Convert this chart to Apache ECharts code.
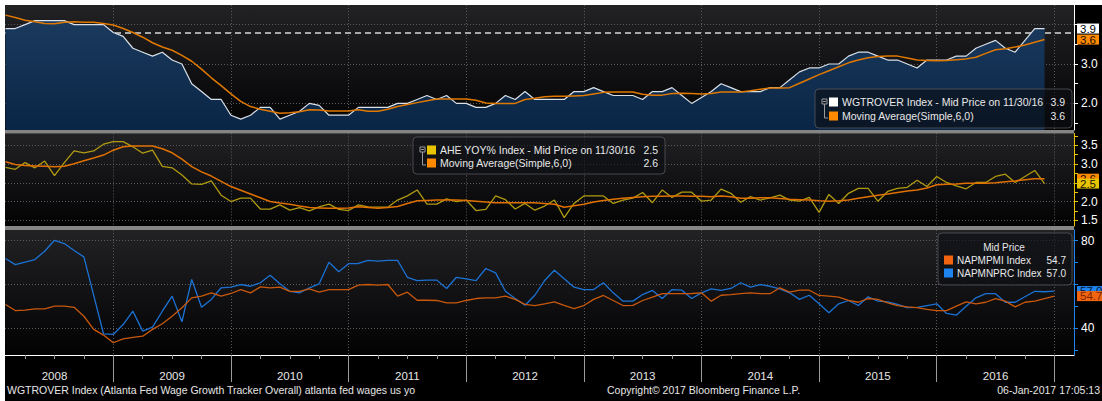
<!DOCTYPE html>
<html><head><meta charset="utf-8">
<script src="https://cdn.jsdelivr.net/npm/echarts@6/dist/echarts.min.js"></script>
<style>html,body{margin:0;padding:0;background:#000;}#c{width:1102px;height:401px;}</style>
</head><body><div id="c"></div>
<script>
// ---------- data (monthly, month-end, starting Jan 2008) ----------
const startYear = 2008;
const yearLabels = ['2008','2009','2010','2011','2012','2013','2014','2015','2016'];
const refLevel = 3.8;

const wgtrover = [3.9,3.9,4.0,4.1,4.1,4.1,4.1,4.0,4.0,4.0,4.0,3.8,
  3.7,3.4,3.3,3.2,3.3,3.1,3.0,2.5,2.3,2.1,2.1,1.7,
  1.6,1.7,1.9,1.9,1.6,1.7,1.8,2.0,1.95,1.7,1.7,1.7,
  1.9,1.9,1.9,1.9,2.0,2.0,2.1,2.2,2.1,2.2,2.0,2.0,
  1.9,1.9,2.0,2.2,2.1,2.3,2.1,2.1,2.1,2.1,2.3,2.3,
  2.4,2.3,2.2,2.2,2.2,2.1,2.3,2.3,2.4,2.2,2.0,2.15,
  2.3,2.5,2.4,2.3,2.3,2.3,2.4,2.4,2.6,2.8,2.9,2.9,
  3.0,3.0,3.2,3.3,3.3,3.2,3.1,3.1,3.0,2.9,3.1,3.1,
  3.1,3.2,3.2,3.4,3.5,3.6,3.4,3.3,3.6,3.9,3.9];
const wgMA = [4.24,4.18,4.11,4.07,4.03,4.02,4.06,4.07,4.06,4.06,4.03,3.99,
  3.90,3.80,3.68,3.54,3.43,3.35,3.22,3.07,2.87,2.65,2.45,2.24,
  2.05,1.92,1.85,1.80,1.75,1.76,1.79,1.84,1.83,1.81,1.81,1.81,
  1.84,1.80,1.80,1.85,1.92,1.97,2.02,2.07,2.11,2.11,2.11,2.11,
  2.08,2.01,2.00,2.00,2.00,2.10,2.13,2.17,2.18,2.18,2.19,2.20,
  2.24,2.28,2.29,2.29,2.29,2.23,2.21,2.21,2.25,2.26,2.25,2.24,
  2.25,2.29,2.29,2.29,2.32,2.36,2.39,2.39,2.40,2.51,2.62,2.73,
  2.83,2.93,3.03,3.10,3.16,3.19,3.20,3.20,3.15,3.10,3.09,3.08,
  3.09,3.11,3.13,3.17,3.27,3.36,3.39,3.43,3.48,3.55,3.62];
const ahe = [2.91,2.86,3.04,2.90,3.08,2.69,3.04,3.35,3.30,3.35,3.53,3.60,
  3.60,3.46,3.29,3.37,2.94,2.90,2.71,2.47,2.46,2.55,2.17,2.00,
  2.09,2.09,1.80,1.80,1.91,1.77,1.84,1.75,1.86,1.93,1.79,1.76,
  1.91,1.86,1.85,1.85,2.04,2.15,2.31,1.93,1.93,2.07,2.00,2.04,
  1.76,1.79,2.15,2.05,1.80,1.95,1.77,1.88,2.04,1.57,1.95,2.15,
  2.15,2.15,1.95,2.04,2.09,2.24,1.97,2.31,2.11,2.25,2.25,2.01,
  2.04,2.33,2.22,1.98,2.13,2.04,2.10,2.17,2.04,2.01,2.11,1.71,
  2.19,1.95,2.22,2.35,2.35,2.01,2.27,2.35,2.38,2.57,2.40,2.67,
  2.51,2.42,2.34,2.51,2.51,2.67,2.73,2.51,2.67,2.83,2.48];
const aheMA = [3.06,2.99,2.96,2.95,2.94,2.93,2.94,3.01,3.09,3.16,3.24,3.37,
  3.46,3.48,3.48,3.48,3.41,3.30,3.13,2.93,2.79,2.68,2.54,2.40,
  2.30,2.20,2.10,2.00,1.96,1.93,1.88,1.84,1.83,1.82,1.82,1.83,
  1.86,1.84,1.82,1.84,1.87,1.95,2.02,2.03,2.04,2.04,2.04,2.03,
  2.01,1.99,1.97,1.97,1.97,1.97,1.97,1.95,1.93,1.85,1.89,1.93,
  1.99,2.03,2.06,2.09,2.11,2.13,2.14,2.14,2.15,2.15,2.14,2.14,
  2.13,2.15,2.13,2.09,2.09,2.10,2.10,2.08,2.06,2.05,2.04,2.02,
  2.01,2.02,2.04,2.09,2.13,2.17,2.20,2.24,2.28,2.31,2.36,2.45,
  2.46,2.47,2.49,2.49,2.49,2.50,2.53,2.55,2.58,2.61,2.61];
const napmpmi = [50.9,48.1,48.3,48.9,48.9,50.1,50.1,49.6,45.5,39.5,36.9,33.4,
  35.2,35.9,36.4,39.5,42.1,45.5,49.4,53.9,54.7,56.2,54.7,55.9,
  57.7,56.2,58.9,58.5,58.8,56.9,56.9,58.0,56.5,57.7,57.7,57.7,
  59.7,60.0,59.7,60.0,54.7,56.5,52.8,52.8,52.7,51.6,51.6,52.7,
  53.6,53.9,53.9,54.7,53.2,50.9,50.4,51.2,52.1,50.5,49.0,50.4,
  53.2,55.0,52.7,50.4,50.5,52.7,54.2,55.8,55.8,55.8,55.9,56.2,
  52.4,55.1,55.4,55.8,56.2,55.8,55.8,58.5,56.5,57.4,57.4,55.0,
  54.7,54.2,52.8,51.9,53.6,53.2,51.6,50.4,49.8,49.4,48.6,48.1,
  48.1,50.1,52.1,51.2,51.9,53.6,52.4,49.8,51.9,52.4,53.6,54.7];
const napmnprc = [71.9,69.1,70.2,71.4,75.2,80.2,78.7,75.5,72.6,55.0,37.5,37.2,
  41.7,47.8,38.7,40.5,47.8,54.7,43.0,62.3,49.6,53.2,58.5,58.8,
  60.0,59.2,60.8,64.2,60.3,56.9,56.2,58.5,60.3,70.2,65.8,69.5,
  69.6,71.0,70.7,71.0,71.0,63.3,61.8,62.0,62.0,58.2,63.3,62.6,
  61.8,67.3,65.3,56.9,53.6,50.5,55.1,61.8,66.5,62.6,58.8,57.7,
  57.7,60.8,56.2,52.4,52.4,55.4,57.3,53.6,57.7,57.4,53.6,56.2,
  58.0,57.3,58.2,60.8,58.8,60.0,59.2,58.0,56.2,53.2,55.1,51.2,
  47.1,51.2,52.7,50.4,54.4,52.4,52.1,50.9,49.4,49.6,50.4,51.2,
  46.8,46.0,50.1,53.9,55.8,55.8,51.9,51.9,54.4,56.9,56.7,57.0];

// tick values
const yearBounds = [2009,2010,2011,2012,2013,2014,2015,2016,2017];
const yearMids = yearLabels.map(y => +y + 0.5);
const quarterTicks = [];
yearLabels.forEach(y => { [0.25,0.5,0.75].forEach(q => quarterTicks.push(+y + q)); });
const topGrid = [2,3,4], topLabels = [2,3], topTicks = [1.5,2,2.5,3,3.5,4];
const midGrid = [1.5,2,2.5,3,3.5], midLabels = [1.5,2,3,3.5];
const midTicks = [1.5,1.75,2,2.25,2.5,2.75,3,3.25,3.5,3.75];
const botGrid = [40,60,80], botLabels = [40,80], botTicks = [30,40,50,60,70,80];

// ---------- helpers ----------
const FONT = '"Liberation Sans", Arial, sans-serif';
function monthEnd(i){ return startYear + (i + 1) / 12; }
const pts = arr => arr.map((v, i) => [monthEnd(i), v]);
const last = arr => arr[arr.length - 1];
const X_MIN = 2008.0793, X_MAX = 2017.167;
const dotted = {color:'#5a5a5a', width:1, type:[1,2]};

function panelBg(){
  return new echarts.graphic.LinearGradient(0,0,0,1,[{offset:0,color:'#222225'},{offset:1,color:'#020203'}]);
}
function xAxisPlain(g){
  return {type:'value', gridIndex:g, min:X_MIN, max:X_MAX, position:'bottom',
    axisLine:{show:false}, axisTick:{show:false, customValues:yearBounds},
    axisLabel:{show:false}, splitLine:{show:true, lineStyle:dotted}};
}
function yMain(g, min, max, gridVals, labelVals, color, fmt){
  return {type:'value', gridIndex:g, position:'right', min:min, max:max,
    axisLine:{show:true, lineStyle:{color:color, width:1}},
    axisTick:{show:false, customValues:gridVals},
    splitLine:{show:true, lineStyle:dotted},
    axisLabel:{show:true, customValues:labelVals, formatter:fmt, color:'#ffffff', fontSize:12, fontFamily:FONT, margin:7}};
}
function yTicks(g, min, max, vals, color){
  return {type:'value', gridIndex:g, position:'right', min:min, max:max,
    axisLine:{show:false}, axisTick:{show:true, customValues:vals, length:4, lineStyle:{color:color}},
    axisLabel:{show:false}, splitLine:{show:false}};
}
function lastLabel(value, bg, fg, z, dec){
  return {silent:true, symbol:'none', animation:false, z:z,
    lineStyle:{color:'transparent', width:0},
    label:{show:true, position:'end', distance:3, formatter:() => value.toFixed(dec),
      backgroundColor:bg, color:fg, fontSize:11.5, fontFamily:FONT, padding:[0,3,0,3], lineHeight:10,
      borderColor: bg === '#ffffff' ? '#555' : bg, borderWidth: 0},
    data:[{yAxis:value}]};
}

// ---------- legends (graphic) ----------
function legendBox(x, y, w, h, rows, rowY, textX, valX, title, fontPx){
  const LFONT = fontPx + 'px ' + FONT;
  const els = [{type:'rect', shape:{x:x, y:y, width:w, height:h, r:4},
    style:{fill:'rgba(12,14,20,0.62)', stroke:'rgba(95,95,100,0.7)', lineWidth:1}}];
  if (title) {
    els.push({type:'text', style:{text:title.text, x:title.x, y:title.y, fill:'#e6e6e6',
      font:LFONT, align:'center', verticalAlign:'middle'}});
  } else {
    els.push({type:'rect', shape:{x:textX-20, y:rowY[0]-3, width:5, height:5},
      style:{fill:'none', stroke:'#9a9a9a', lineWidth:1}});
    els.push({type:'line', shape:{x1:textX-19, y1:rowY[0]-0.5, x2:textX-16, y2:rowY[0]-0.5},
      style:{stroke:'#9a9a9a', lineWidth:1}});
    els.push({type:'polyline', shape:{points:[[textX-17.5, rowY[0]+2],[textX-17.5, rowY[1]+2],[textX-14, rowY[1]+2]]},
      style:{stroke:'#9a9a9a', lineWidth:1, fill:'none'}});
  }
  rows.forEach((r, k) => {
    els.push({type:'rect', shape:{x:textX-13, y:rowY[k]-4.5, width:9, height:9}, style:{fill:r.color}});
    els.push({type:'text', style:{text:r.text, x:textX, y:rowY[k], fill:'#e8e8e8',
      font:LFONT, verticalAlign:'middle'}});
    els.push({type:'text', style:{text:r.value, x:valX, y:rowY[k], fill:'#e8e8e8',
      font:LFONT, align:'right', verticalAlign:'middle'}});
  });
  els.forEach((e, k) => { e.z = 100 + k; e.zlevel = 0; });
  return els;
}

const graphics = [
  {type:'rect', shape:{x:0, y:0, width:1102, height:5}, style:{fill:'#ffffff'}, z:100},
  {type:'rect', shape:{x:0, y:0, width:5, height:401}, style:{fill:'#ffffff'}, z:100},
  {type:'rect', shape:{x:5, y:130, width:1069, height:3.5}, style:{fill:'#858585'}, z:90},
  {type:'rect', shape:{x:5, y:226, width:1069, height:4}, style:{fill:'#858585'}, z:90},
  ...legendBox(815, 89, 257, 39, [
      {color:'#ffffff', text:'WGTROVER Index - Mid Price on 11/30/16', value:last(wgtrover).toFixed(1)},
      {color:'#ff8a00', text:'Moving Average(Simple,6,0)', value:last(wgMA).toFixed(1)}],
    [102, 116], 842, 1065, null, 10.5),
  ...legendBox(413, 137, 252, 37, [
      {color:'#e8c400', text:'AHE YOY% Index - Mid Price on 11/30/16', value:last(ahe).toFixed(1)},
      {color:'#ff8a00', text:'Moving Average(Simple,6,0)', value:last(aheMA).toFixed(1)}],
    [150, 163], 440, 658, null, 10.5),
  ...legendBox(938, 233, 134, 52, [
      {color:'#f2640f', text:'NAPMPMI Index', value:last(napmpmi).toFixed(1)},
      {color:'#1e84f0', text:'NAPMNPRC Index', value:last(napmnprc).toFixed(1)}],
    [260, 273], 957, 1066, {text:'Mid Price', x:1004, y:247}, 10),
  {type:'text', style:{text:'WGTROVER Index (Atlanta Fed Wage Growth Tracker Overall) atlanta fed wages us yo',
    x:7, y:390, fill:'#e6e6e6', font:'10.5px ' + FONT, verticalAlign:'middle'}, z:100},
  {type:'text', style:{text:'Copyright\u00a9 2017 Bloomberg Finance L.P.',
    x:607, y:390, fill:'#e6e6e6', font:'10.5px ' + FONT, verticalAlign:'middle'}, z:100},
  {type:'text', style:{text:'06-Jan-2017 17:05:13',
    x:1100, y:390, fill:'#e6e6e6', font:'10.5px ' + FONT, align:'right', verticalAlign:'middle'}, z:100}
];

// ---------- option ----------
const option = {
  animation:false,
  backgroundColor:'#000000',
  textStyle:{fontFamily:FONT},
  grid:[
    {left:5, right:28, top:5, height:125, show:true, backgroundColor:panelBg(), borderWidth:0},
    {left:5, right:28, top:133.5, height:92.5, show:true, backgroundColor:panelBg(), borderWidth:0},
    {left:5, right:28, top:230, height:125, show:true, backgroundColor:panelBg(), borderWidth:0}
  ],
  xAxis:[
    xAxisPlain(0),
    xAxisPlain(1),
    {type:'value', gridIndex:2, min:X_MIN, max:X_MAX, position:'bottom',
      axisLine:{show:true, lineStyle:{color:'#ffffff', width:1}},
      axisTick:{show:true, customValues:yearBounds, length:27, lineStyle:{color:'#9a9a9a'}},
      axisLabel:{show:true, customValues:yearMids, formatter:v => yearLabels[Math.floor(v) - startYear],
        color:'#e6e6e6', fontSize:11.5, fontFamily:FONT, margin:15},
      splitLine:{show:true, lineStyle:dotted}},
    {type:'value', gridIndex:2, min:X_MIN, max:X_MAX, position:'bottom',
      axisLine:{show:false},
      axisTick:{show:true, customValues:quarterTicks, length:4, lineStyle:{color:'#9a9a9a'}},
      axisLabel:{show:false}, splitLine:{show:false}}
  ],
  yAxis:[
    yMain(0, 1.325, 4.4975, topGrid, topLabels, '#ffffff', v => v.toFixed(1)),
    yTicks(0, 1.325, 4.4975, topTicks, '#ffffff'),
    yMain(1, 1.348, 3.815, midGrid, midLabels, '#e8c400', v => v.toFixed(1)),
    yTicks(1, 1.348, 3.815, midTicks, '#e8c400'),
    yMain(2, 27.81, 84.89, botGrid, botLabels, '#1e84f0', v => String(v)),
    yTicks(2, 27.81, 84.89, botTicks, '#1e84f0')
  ],
  series:[
    {name:'WGTROVER Index', type:'line', xAxisIndex:0, yAxisIndex:0, data:pts(wgtrover),
      showSymbol:false, symbol:'none', z:3,
      lineStyle:{color:'#d9e0e8', width:1.2},
      areaStyle:{origin:'start', opacity:1,
        color:new echarts.graphic.LinearGradient(0,0,0,1,[{offset:0,color:'#1a3a5e'},{offset:1,color:'#0a2545'}])},
      markLine:{silent:true, symbol:'none', animation:false, z:1,
        label:{show:false}, lineStyle:{color:'#a8a8a8', width:2, type:[6,4]},
        data:[{yAxis:refLevel}]}},
    {name:'WGTROVER Last', type:'line', xAxisIndex:0, yAxisIndex:0, data:[], markLine:lastLabel(last(wgtrover), '#ffffff', '#000000', 20, 1)},
    {name:'Moving Average', type:'line', xAxisIndex:0, yAxisIndex:0, data:pts(wgMA),
      showSymbol:false, symbol:'none', z:4, lineStyle:{color:'#e07800', width:1.5},
      markLine:lastLabel(last(wgMA), '#ff8a00', '#1a0a00', 21, 1)},
    {name:'Moving Average (AHE)', type:'line', xAxisIndex:1, yAxisIndex:2, data:pts(aheMA),
      showSymbol:false, symbol:'none', z:4, lineStyle:{color:'#e07000', width:1.5},
      markLine:lastLabel(last(aheMA), '#ff8a00', '#1a0a00', 20, 1)},
    {name:'AHE YOY% Index', type:'line', xAxisIndex:1, yAxisIndex:2, data:pts(ahe),
      showSymbol:false, symbol:'none', z:3, lineStyle:{color:'#b09a10', width:1.3},
      markLine:lastLabel(last(ahe), '#e8c400', '#1a1400', 21, 1)},
    {name:'NAPMNPRC Index', type:'line', xAxisIndex:2, yAxisIndex:4, data:pts(napmnprc),
      showSymbol:false, symbol:'none', z:3, lineStyle:{color:'#1c72d4', width:1.3},
      markLine:lastLabel(last(napmnprc), '#1e84f0', '#0a1830', 20, 1)},
    {name:'NAPMPMI Index', type:'line', xAxisIndex:2, yAxisIndex:4, data:pts(napmpmi),
      showSymbol:false, symbol:'none', z:4, lineStyle:{color:'#c9580c', width:1.3},
      markLine:lastLabel(last(napmpmi), '#f2640f', '#7a2600', 21, 1)}
  ],
  graphic:{elements:graphics}
};

const chart = echarts.init(document.getElementById('c'), null, {renderer:'svg', width:1102, height:401});
chart.setOption(option);
</script>
</body></html>
